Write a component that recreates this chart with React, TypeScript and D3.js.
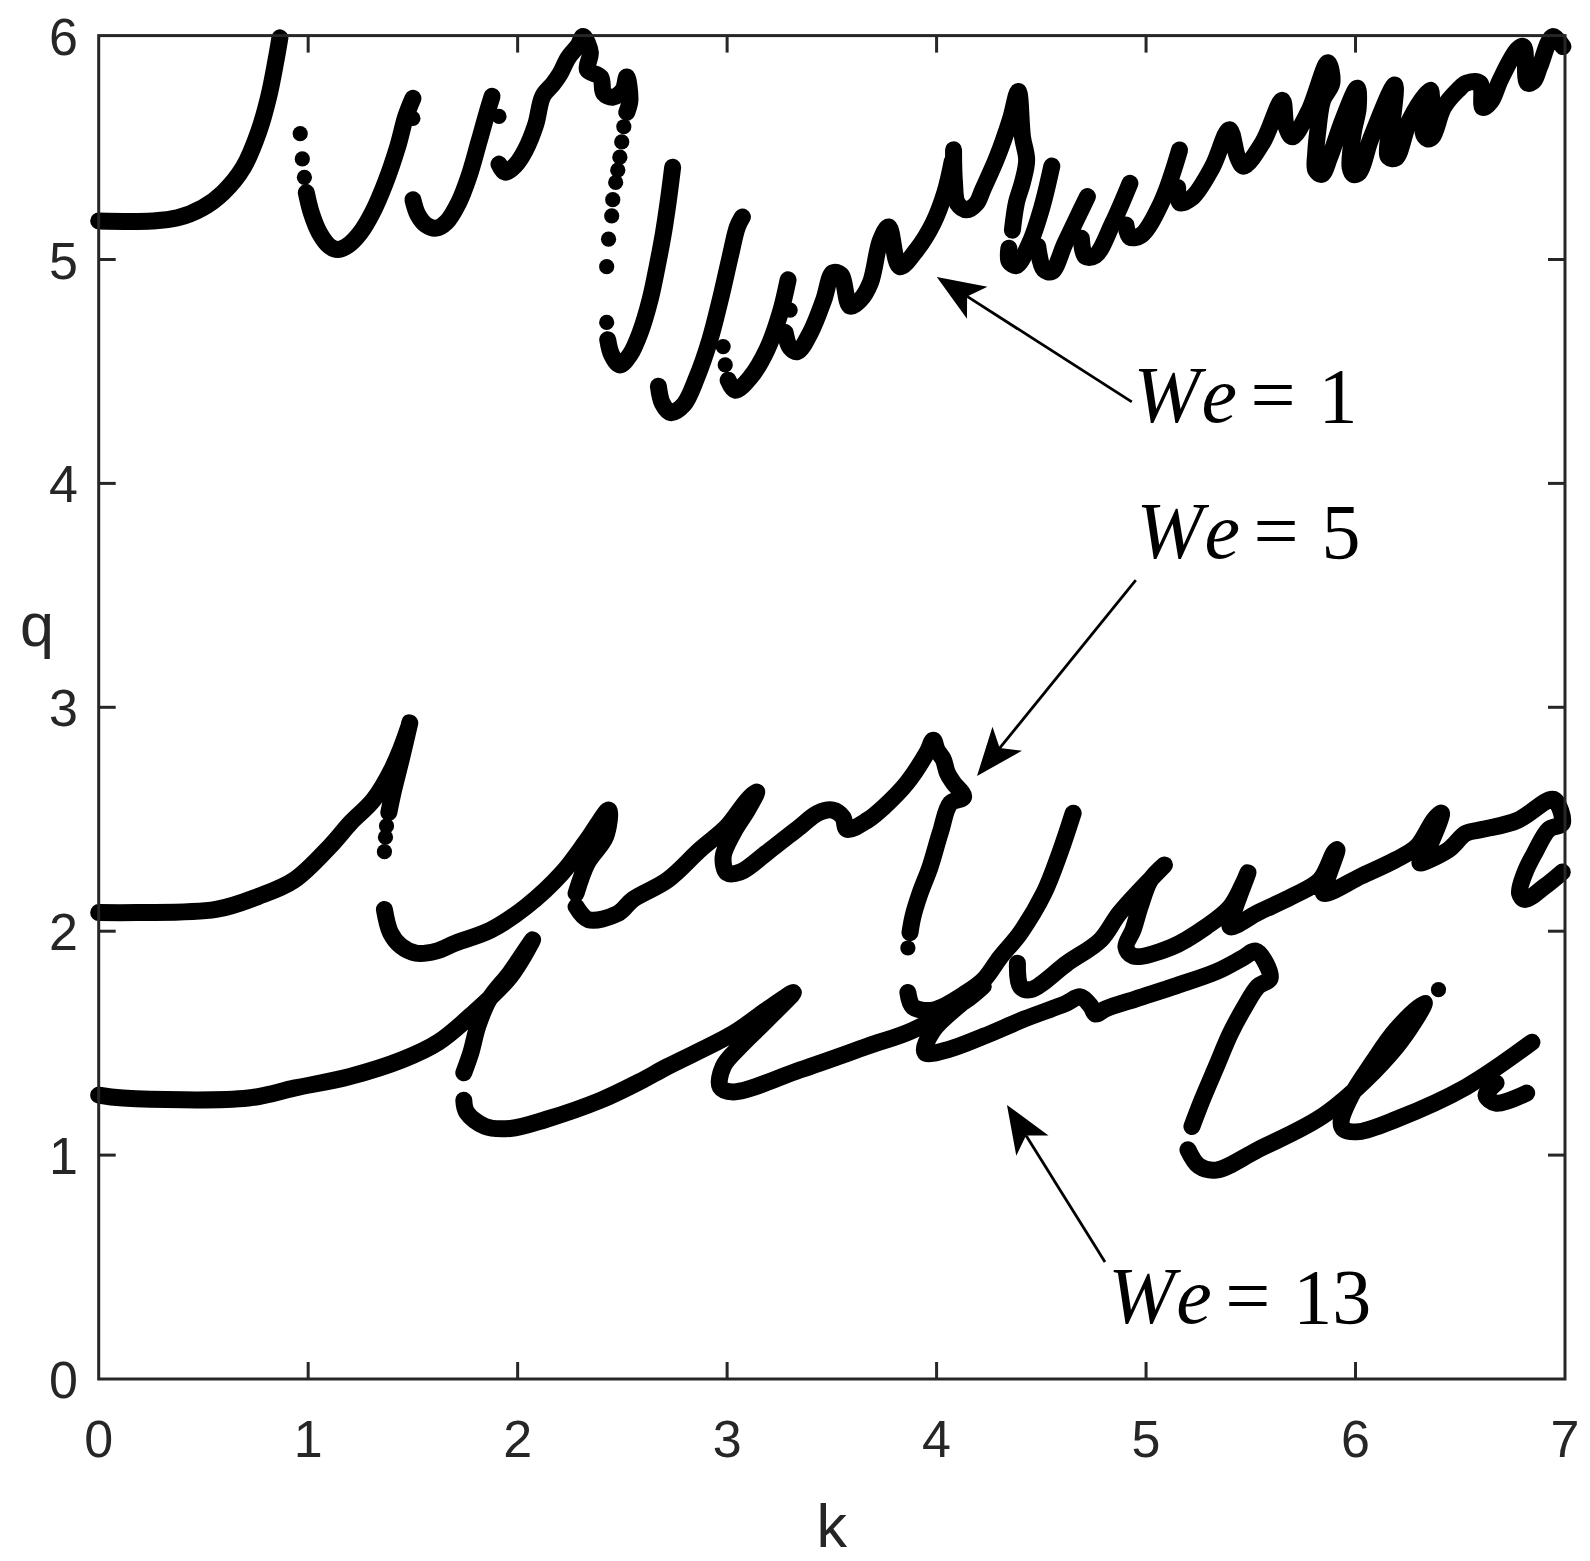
import React from "react";
import * as d3 from "d3";

type P = [number, number];

// ---------- axis ticks ----------
const xTicks = [0, 1, 2, 3, 4, 5, 6, 7];
const yTicks = [0, 1, 2, 3, 4, 5, 6];

// ---------- We = 1 (k, q) ----------
const we1Lines: P[][] = [
  [[0, 5.172], [0.255, 5.172], [0.377, 5.186], [0.497, 5.231], [0.594, 5.299], [0.691, 5.412], [0.764, 5.571], [0.812, 5.729], [0.846, 5.888], [0.865, 5.99]],
  [[0.991, 5.299], [1.015, 5.208], [1.054, 5.118], [1.102, 5.059], [1.141, 5.045], [1.19, 5.063], [1.248, 5.118], [1.306, 5.208], [1.369, 5.344], [1.427, 5.503], [1.466, 5.639], [1.5, 5.72]],
  [[1.5, 5.267], [1.524, 5.199], [1.563, 5.154], [1.611, 5.14], [1.66, 5.167], [1.718, 5.253], [1.766, 5.367], [1.815, 5.525], [1.853, 5.652], [1.878, 5.729]],
  [[1.911, 5.426], [1.94, 5.39], [1.989, 5.421], [2.037, 5.489], [2.086, 5.602], [2.12, 5.729], [2.168, 5.783], [2.202, 5.829], [2.241, 5.901], [2.289, 5.956], [2.313, 5.996], [2.347, 5.924], [2.333, 5.847], [2.396, 5.815], [2.411, 5.743], [2.454, 5.725], [2.502, 5.756], [2.521, 5.815], [2.536, 5.711], [2.521, 5.657]],
  [[2.43, 4.642], [2.449, 4.574], [2.488, 4.529], [2.536, 4.574], [2.585, 4.674], [2.633, 4.823], [2.667, 4.973], [2.696, 5.118], [2.72, 5.267], [2.74, 5.412]],
  [[2.672, 4.434], [2.691, 4.357], [2.73, 4.316], [2.793, 4.352], [2.856, 4.475], [2.918, 4.642], [2.967, 4.819], [3.015, 5.014], [3.049, 5.145], [3.073, 5.19]],
  [[3.005, 4.461], [3.039, 4.416], [3.112, 4.475], [3.19, 4.597], [3.253, 4.76], [3.291, 4.909]],
  [[3.277, 4.674], [3.301, 4.606], [3.335, 4.588], [3.398, 4.674], [3.461, 4.819], [3.505, 4.941], [3.543, 4.932], [3.587, 4.792], [3.635, 4.819], [3.684, 4.896], [3.732, 5.086], [3.771, 5.145], [3.824, 4.968], [3.906, 5.045], [3.984, 5.163], [4.04, 5.3], [4.075, 5.44]],
  [[4.081, 5.49], [4.085, 5.35], [4.1, 5.25], [4.144, 5.222], [4.19, 5.25], [4.221, 5.313], [4.289, 5.457], [4.352, 5.625], [4.39, 5.75], [4.41, 5.548], [4.43, 5.444], [4.41, 5.344], [4.381, 5.253], [4.362, 5.131]],
  [[4.345, 5.05], [4.347, 4.991], [4.381, 4.973], [4.444, 5.072], [4.502, 5.231], [4.55, 5.417]],
  [[4.483, 5.059], [4.512, 4.955], [4.55, 4.946], [4.613, 5.072], [4.671, 5.186], [4.72, 5.281]],
  [[4.691, 5.095], [4.71, 5.014], [4.758, 5.018], [4.841, 5.163], [4.923, 5.34]],
  [[4.904, 5.154], [4.923, 5.1], [4.977, 5.109], [5.073, 5.254], [5.16, 5.489]],
  [[5.151, 5.322], [5.16, 5.254], [5.219, 5.276], [5.316, 5.412], [5.398, 5.58], [5.437, 5.457], [5.466, 5.417], [5.558, 5.525], [5.65, 5.711], [5.669, 5.593], [5.698, 5.548], [5.776, 5.661], [5.868, 5.879], [5.887, 5.788], [5.843, 5.711], [5.819, 5.566], [5.81, 5.476], [5.81, 5.399], [5.839, 5.38], [5.877, 5.457], [5.94, 5.625], [6.008, 5.765], [6.013, 5.679], [5.989, 5.566], [5.974, 5.412], [5.989, 5.38], [6.018, 5.389], [6.071, 5.534], [6.187, 5.779], [6.178, 5.639], [6.153, 5.503], [6.158, 5.457], [6.192, 5.453], [6.26, 5.625], [6.357, 5.756], [6.357, 5.67], [6.323, 5.566], [6.343, 5.539], [6.367, 5.548], [6.42, 5.679], [6.488, 5.756], [6.531, 5.788], [6.594, 5.788], [6.608, 5.679], [6.647, 5.707], [6.691, 5.802], [6.773, 5.938], [6.802, 5.951], [6.821, 5.788], [6.85, 5.797], [6.879, 5.861], [6.942, 5.996], [6.99, 5.951]],
];
const we1Dots: P[] = [
  [0.962, 5.562], [0.972, 5.449], [0.982, 5.367], [1.5, 5.63], [1.911, 5.639],
  [2.507, 5.593], [2.497, 5.525], [2.488, 5.457], [2.478, 5.399], [2.468, 5.344], [2.454, 5.267], [2.449, 5.195], [2.434, 5.091], [2.425, 4.968], [2.425, 4.719],
  [2.981, 4.611], [2.991, 4.529], [3.301, 4.774],
];

// ---------- We = 5 ----------
const we5Lines: P[][] = [
  [[0, 2.083], [0.183, 2.083], [0.56, 2.097], [0.764, 2.156], [0.933, 2.228], [1.103, 2.378], [1.204, 2.486], [1.311, 2.586], [1.399, 2.722], [1.48, 2.912], [1.485, 2.93], [1.445, 2.77], [1.408, 2.631], [1.385, 2.53]],
  [[1.364, 2.097], [1.393, 1.993], [1.442, 1.934], [1.514, 1.902], [1.611, 1.911], [1.703, 1.947], [1.873, 2.006], [2.042, 2.111], [2.212, 2.26], [2.333, 2.409], [2.435, 2.541], [2.42, 2.423], [2.333, 2.305], [2.279, 2.169]],
  [[2.279, 2.11], [2.337, 2.052], [2.478, 2.079], [2.551, 2.142], [2.715, 2.228], [2.871, 2.364], [3.0, 2.468], [3.097, 2.586], [3.141, 2.622], [3.097, 2.541], [3.03, 2.441], [2.981, 2.332], [3.0, 2.26], [3.063, 2.264], [3.19, 2.351], [3.35, 2.468], [3.432, 2.527], [3.504, 2.541], [3.553, 2.509], [3.572, 2.455], [3.669, 2.495], [3.747, 2.554], [3.859, 2.663], [3.955, 2.799], [3.984, 2.853], [4.003, 2.808], [4.032, 2.767], [4.051, 2.708], [4.08, 2.663], [4.129, 2.6], [4.066, 2.572], [4.018, 2.441], [3.969, 2.287], [3.921, 2.169], [3.887, 2.065], [3.873, 1.993]],
  [[3.863, 1.726], [3.887, 1.662], [3.984, 1.648], [4.144, 1.726], [4.226, 1.784], [4.304, 1.884], [4.4, 1.993], [4.512, 2.169], [4.589, 2.351], [4.652, 2.527]],
  [[4.386, 1.857], [4.4, 1.753], [4.449, 1.739], [4.623, 1.857], [4.783, 1.961], [4.875, 2.083], [5.088, 2.296], [5.02, 2.228], [4.972, 2.11], [4.938, 2.006], [4.904, 1.929], [4.938, 1.889], [5.122, 1.929], [5.287, 2.02], [5.403, 2.11], [5.471, 2.228], [5.486, 2.26], [5.417, 2.083], [5.403, 2.02], [5.534, 2.083], [5.698, 2.156], [5.829, 2.228], [5.897, 2.351], [5.911, 2.364], [5.863, 2.228], [5.848, 2.169], [6.027, 2.246], [6.192, 2.319], [6.293, 2.378], [6.376, 2.5], [6.41, 2.527], [6.328, 2.332], [6.308, 2.305], [6.444, 2.364], [6.527, 2.437], [6.608, 2.455], [6.773, 2.495], [6.923, 2.586], [6.952, 2.586], [6.987, 2.482], [6.923, 2.455], [6.856, 2.351], [6.808, 2.26], [6.783, 2.169], [6.808, 2.142], [6.905, 2.201], [6.987, 2.264]],
];
const we5Dots: P[] = [
  [1.374, 2.47], [1.369, 2.42], [1.364, 2.355], [3.863, 1.925],
];

// ---------- We = 13 ----------
const we13Lines: P[][] = [
  [[0, 1.268], [0.115, 1.255], [0.715, 1.255], [0.938, 1.3], [1.195, 1.35], [1.452, 1.427], [1.621, 1.504], [1.79, 1.635], [1.965, 1.798], [2.071, 1.961], [1.965, 1.816], [1.863, 1.694], [1.81, 1.576], [1.777, 1.458], [1.743, 1.368]],
  [[1.743, 1.245], [1.757, 1.191], [1.844, 1.128], [1.965, 1.119], [2.134, 1.159], [2.396, 1.245], [2.58, 1.327], [2.715, 1.395], [3.03, 1.544], [3.19, 1.649], [3.316, 1.726], [3.19, 1.603], [3.063, 1.486], [2.981, 1.395], [2.967, 1.304], [3.03, 1.282], [3.35, 1.381], [3.669, 1.486], [3.887, 1.558], [4.144, 1.694], [4.221, 1.753], [3.984, 1.558], [3.945, 1.458], [4.057, 1.472], [4.226, 1.531], [4.42, 1.608], [4.614, 1.676], [4.686, 1.707], [4.735, 1.667], [4.759, 1.63], [4.807, 1.653], [4.952, 1.698], [5.146, 1.757], [5.34, 1.821], [5.461, 1.88], [5.524, 1.911], [5.572, 1.857], [5.592, 1.789], [5.534, 1.753], [5.471, 1.662], [5.403, 1.544], [5.335, 1.395], [5.267, 1.245], [5.219, 1.128]],
  [[5.2, 1.024], [5.253, 0.951], [5.335, 0.933], [5.534, 1.024], [5.863, 1.187], [6.197, 1.486], [6.328, 1.68], [6.192, 1.558], [6.081, 1.413], [5.979, 1.264], [5.931, 1.146], [5.945, 1.114], [6.018, 1.105], [6.192, 1.159], [6.527, 1.304], [6.842, 1.504]],
  [[6.671, 1.322], [6.623, 1.268], [6.671, 1.232], [6.817, 1.277]],
];
const we13Dots: P[] = [[6.396, 1.739]];

// ---------- annotations ----------
const annLabels = ["1", "5", "13"];
const annText: P[] = [[4.94, 4.274], [4.954, 3.667], [4.82, 0.25]];
const annTail: P[] = [[4.932, 4.364], [4.951, 3.568], [4.804, 0.523]];
const annTip: P[] = [[4.001, 4.922], [4.193, 2.693], [4.336, 1.224]];

export default function App() {
  const W = 1590;
  const H = 1561;
  const left = 98.7, right = 1565, top = 35.6, bottom = 1379;
  const x = d3.scaleLinear().domain([0, 7]).range([left, right]);
  const y = d3.scaleLinear().domain([0, 6]).range([bottom, top]);
  const line = d3
    .line<P>()
    .x((d) => x(d[0]))
    .y((d) => y(d[1]))
    .curve(d3.curveCatmullRom.alpha(0.5));

  const axisColor = "#262626";
  const tickLen = 17;
  const lineW = 17;
  const dotR = 7.6;

  const allLines = [...we1Lines, ...we5Lines, ...we13Lines];
  const allDots = [...we1Dots, ...we5Dots, ...we13Dots];

  const sans = "'Liberation Sans', Arial, Helvetica, sans-serif";
  const serif = "'Liberation Serif', 'Times New Roman', Times, serif";

  const arrow = (tip: P, tail: P, i: number) => {
    const tx = x(tip[0]), ty = y(tip[1]);
    const ex = x(tail[0]), ey = y(tail[1]);
    const dx = ex - tx, dy = ey - ty;
    const len = Math.hypot(dx, dy);
    const ux = dx / len, uy = dy / len;
    const px = -uy, py = ux;
    const L = 48, hw = 19, N = 36;
    const pts = [
      [tx, ty],
      [tx + ux * L + px * hw, ty + uy * L + py * hw],
      [tx + ux * N, ty + uy * N],
      [tx + ux * L - px * hw, ty + uy * L - py * hw],
    ];
    return (
      <g key={"arr" + i}>
        <line x1={tx + ux * N} y1={ty + uy * N} x2={ex} y2={ey} stroke="#000" strokeWidth={2.8} />
        <polygon points={pts.map((p) => p.join(",")).join(" ")} fill="#000" />
      </g>
    );
  };

  const off = { W: 0, e: 68, eq: 117, num: 185 };

  return (
    <svg
      width={W}
      height={H}
      viewBox={`0 0 ${W} ${H}`}
      style={{ position: "absolute", left: 0, top: 0, background: "#fff" }}
    >
      <rect x={0} y={0} width={W} height={H} fill="#fff" />
      <g>
        {allLines.map((seg, i) => (
          <path
            key={"l" + i}
            d={line(seg) || ""}
            fill="none"
            stroke="#000"
            strokeWidth={lineW}
            strokeLinecap="round"
            strokeLinejoin="round"
          />
        ))}
        {allDots.map((d, i) => (
          <circle key={"d" + i} cx={x(d[0])} cy={y(d[1])} r={dotR} fill="#000" />
        ))}
      </g>

      <rect x={left} y={top} width={right - left} height={bottom - top} fill="none" stroke={axisColor} strokeWidth={3} />
      {xTicks.map((t) => (
        <g key={"xt" + t}>
          {t > 0 && t < 7 && (
            <>
              <line x1={x(t)} x2={x(t)} y1={bottom} y2={bottom - tickLen} stroke={axisColor} strokeWidth={3} />
              <line x1={x(t)} x2={x(t)} y1={top} y2={top + tickLen} stroke={axisColor} strokeWidth={3} />
            </>
          )}
          <text x={x(t)} y={1457} textAnchor="middle" fontFamily={sans} fontSize={52} fill={axisColor}>
            {t}
          </text>
        </g>
      ))}
      {yTicks.map((t) => (
        <g key={"yt" + t}>
          {t > 0 && t < 6 && (
            <>
              <line x1={left} x2={left + tickLen} y1={y(t)} y2={y(t)} stroke={axisColor} strokeWidth={3} />
              <line x1={right} x2={right - tickLen} y1={y(t)} y2={y(t)} stroke={axisColor} strokeWidth={3} />
            </>
          )}
          <text x={78} y={y(t) + 19} textAnchor="end" fontFamily={sans} fontSize={52} fill={axisColor}>
            {t}
          </text>
        </g>
      ))}
      <text x={(left + right) / 2} y={1547} textAnchor="middle" fontFamily={sans} fontSize={61} fill={axisColor}>
        k
      </text>
      <text x={37} y={646} textAnchor="middle" fontFamily={sans} fontSize={61} fill={axisColor}>
        q
      </text>

      {annTip.map((tp, i) => arrow(tp, annTail[i], i))}
      {annLabels.map((lab, i) => {
        const bx = x(annText[i][0]);
        const by = y(annText[i][1]);
        return (
          <g key={"t" + i}>
            <text x={bx + off.W} y={by} fontFamily={serif} fontSize={80} fontStyle="italic" fill="#000">W</text>
            <text x={bx + off.e} y={by} fontFamily={serif} fontSize={80} fontStyle="italic" fill="#000">e</text>
            <text x={bx + off.eq} y={by} fontFamily={serif} fontSize={80} fill="#000">=</text>
            <text x={bx + off.num} y={by} fontFamily={serif} fontSize={78} fill="#000">{lab}</text>
          </g>
        );
      })}
    </svg>
  );
}
